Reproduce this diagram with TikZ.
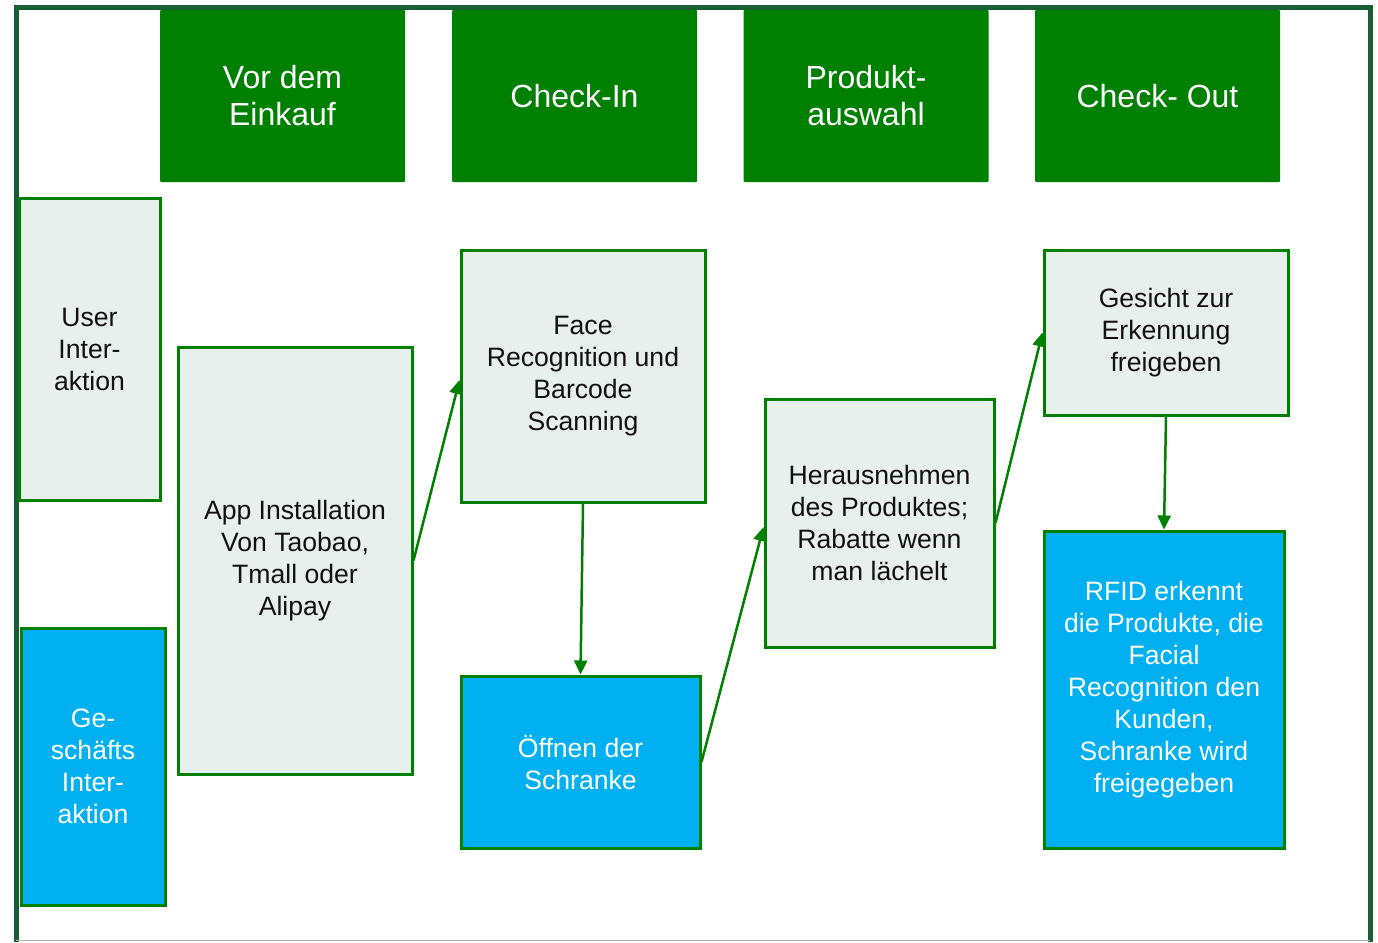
\documentclass[tikz,border=0pt]{standalone}
\usepackage{fontspec}
\setmainfont{Liberation Sans}
\usetikzlibrary{positioning, arrows.meta, calc}
\definecolor{hdgreen}{HTML}{008000}
\definecolor{frgreen}{HTML}{1A5C34}
\definecolor{usrfill}{HTML}{E8F0EE}
\definecolor{bizblue}{HTML}{00B0F0}
\definecolor{txtblack}{HTML}{111111}

\tikzset{
  phase/.style={fill=hdgreen, text=white, rounded corners=1pt, align=center,
                minimum width=245pt, minimum height=172pt, inner sep=0pt,
                font=\fontsize{32}{37}\selectfont},
  userbox/.style={draw=hdgreen, line width=3pt, fill=usrfill, text=txtblack,
                  align=center, inner sep=0pt, font=\fontsize{26.6}{32}\selectfont},
  bizbox/.style={userbox, fill=bizblue, text=white},
  flow/.style={draw=hdgreen, line width=2.5pt, -{Triangle[length=14pt,width=13pt]}}
}

\begin{document}
\begin{tikzpicture}[x=1pt, y=-1pt]
    \useasboundingbox (0,0) rectangle (1378,942);
    % frame
    \draw[frgreen, line width=5pt] (16,942) -- (16,8) -- (1370,8) -- (1370,942);
    \draw[gray!60, line width=1pt] (16,940.5) -- (1370,940.5);

    % phases
    \node[phase] (vor) at (282.5,96) {Vor dem\\Einkauf};
    \node[phase] (checkin) at (574.5,96) {Check-In};
    \node[phase] (prod) at (866,96) {Produkt-\\auswahl};
    \node[phase] (checkout) at (1157.5,96) {Check- Out};

    % lanes
    \node[userbox, minimum width=141pt, minimum height=302pt] (user) at (89.5,349)
          {User\\Inter-\\aktion};
    \node[bizbox, minimum width=144pt, minimum height=277pt] (biz) at (93,766.5)
          {Ge-\\schäfts\\Inter-\\aktion};

    % steps
    \node[userbox, minimum width=234pt, minimum height=427pt] (app) at (295,560.5)
          {App Installation\\Von Taobao,\\Tmall oder\\Alipay};
    \node[userbox, minimum width=244pt, minimum height=252pt] (face) at (583,376)
          {Face\\Recognition und\\Barcode\\Scanning};
    \node[bizbox, minimum width=239pt, minimum height=172pt] (open) at (580.5,762)
          {Öffnen der\\Schranke};
    \node[userbox, minimum width=229pt, minimum height=248pt] (take) at (879.5,523)
          {Herausnehmen\\des Produktes;\\Rabatte wenn\\man lächelt};
    \node[userbox, minimum width=244pt, minimum height=165pt] (face2) at (1166,332.5)
          {Gesicht zur\\Erkennung\\freigeben};
    \node[bizbox, minimum width=240pt, minimum height=317pt] (rfid) at (1164,689.5)
          {RFID erkennt\\die Produkte, die\\Facial\\Recognition den\\Kunden,\\Schranke wird\\freigegeben};

    % connectors
    \draw[flow] (app.east) -- ($(face.west)+(0,4)$);
    \draw[flow] (face.south) -- (open.north);
    \draw[flow] (open.east) -- ($(take.west)+(0,4)$);
    \draw[flow] (take.east) -- (face2.west);
    \draw[flow] (face2.south) -- (rfid.north);
  \end{tikzpicture}
\end{document}
